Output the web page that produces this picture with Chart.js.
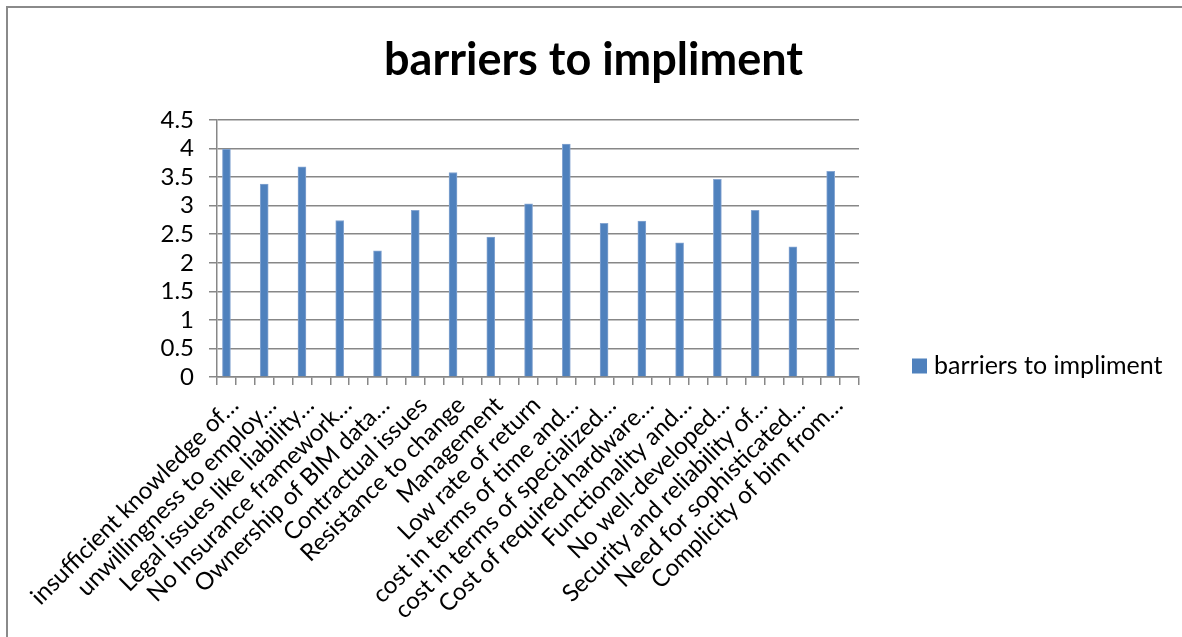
<!DOCTYPE html>
<html>
<head>
<meta charset="utf-8">
<script src="https://cdn.jsdelivr.net/npm/chart.js@4/dist/chart.umd.min.js"></script>
<style>
  html, body { margin: 0; padding: 0; background: #ffffff; }
  canvas { display: block; }
</style>
</head>
<body>
<canvas id="chart" width="1182" height="637"></canvas>
<script>
// Barrier categories (labels are shortened with an ellipsis)
const categories = [
  'insufficient knowledge of\u2026',
  'unwillingness to employ\u2026',
  'Legal issues like liability\u2026',
  'No Insurance framework\u2026',
  'Ownership of BIM data\u2026',
  'Contractual issues',
  'Resistance to change',
  'Management',
  'Low rate of return',
  'cost in terms of time and\u2026',
  'cost in terms of specialized\u2026',
  'Cost of required hardware\u2026',
  'Functionality and\u2026',
  'No well-developed\u2026',
  'Security and reliability of\u2026',
  'Need for sophisticated\u2026',
  'Complicity of bim from\u2026'
];

// Mean score for each barrier
const scores = [3.99, 3.38, 3.68, 2.74, 2.21, 2.92, 3.58, 2.45, 3.03, 4.08, 2.69, 2.73, 2.35, 3.46, 2.92, 2.28, 3.60];

const seriesName = 'barriers to impliment';
const yTickValues = [0, 0.5, 1, 1.5, 2, 2.5, 3, 3.5, 4, 4.5];

// The sheet has an empty row after every barrier, so each barrier
// is followed by a blank category slot on the axis.
const slotLabels = [];
const slotValues = [];
categories.forEach((name, i) => {
  slotLabels.push(name);
  slotValues.push(scores[i]);
  slotLabels.push('');
  slotValues.push(null);
});

const FONT = 'Lato, "Open Sans", sans-serif';
const BAR_COLOR = '#4F81BD';
const AXIS_GRAY = '#878787';

// White page with the frame line along the top and left
const framePlugin = {
  id: 'frame',
  beforeDraw(chart) {
    const ctx = chart.ctx;
    ctx.save();
    ctx.fillStyle = '#ffffff';
    ctx.fillRect(0, 0, chart.width, chart.height);
    ctx.strokeStyle = '#8a8a8a';
    ctx.lineWidth = 2;
    ctx.beginPath();
    ctx.moveTo(7, chart.height);
    ctx.lineTo(7, 7);
    ctx.lineTo(chart.width, 7);
    ctx.stroke();
    ctx.restore();
  }
};

// Single-entry legend placed right of the plot
const sideLegendPlugin = {
  id: 'sideLegend',
  afterDraw(chart) {
    const ds = chart.data.datasets[0];
    const area = chart.chartArea;
    const ctx = chart.ctx;
    const x = area.right + 53;
    const y = 366;
    ctx.save();
    ctx.fillStyle = ds.backgroundColor;
    ctx.fillRect(x, y - 7.5, 15, 15);
    ctx.fillStyle = '#000000';
    ctx.font = '25px ' + FONT;
    ctx.textBaseline = 'middle';
    ctx.textAlign = 'left';
    ctx.fillText(ds.label, x + 22, y);
    ctx.restore();
  }
};

new Chart(document.getElementById('chart'), {
  type: 'bar',
  data: {
    labels: slotLabels,
    datasets: [{
      label: seriesName,
      data: slotValues,
      backgroundColor: BAR_COLOR,
      borderColor: '#86A6D2',
      borderWidth: 1,
      barThickness: 8
    }]
  },
  options: {
    responsive: false,
    animation: false,
    devicePixelRatio: 1,
    layout: { padding: { left: 10, top: 8, right: 5, bottom: 5 } },
    plugins: {
      legend: { display: false },
      tooltip: { enabled: false },
      title: {
        display: true,
        text: seriesName,
        color: '#000000',
        font: { family: FONT, size: 45, weight: 'bold' },
        padding: { top: 25, bottom: 33 }
      }
    },
    scales: {
      x: {
        offset: true,
        grid: {
          display: true,
          offset: true,
          drawOnChartArea: false,
          drawTicks: true,
          tickLength: 8,
          color: AXIS_GRAY,
          lineWidth: 1.5
        },
        border: { color: AXIS_GRAY, width: 1.5 },
        ticks: {
          autoSkip: false,
          minRotation: 45,
          maxRotation: 45,
          padding: 6,
          labelOffset: 8,
          color: '#000000',
          font: { family: FONT, size: 24 }
        },
        afterFit(scale) { scale.height = 637 - 377 - 5; }
      },
      y: {
        min: yTickValues[0],
        max: yTickValues[yTickValues.length - 1],
        afterBuildTicks(scale) { scale.ticks = yTickValues.map(v => ({ value: v })); },
        grid: { color: AXIS_GRAY, lineWidth: 1.5, tickLength: 8 },
        border: { color: AXIS_GRAY, width: 1.5 },
        ticks: {
          autoSkip: false,
          padding: 15,
          color: '#000000',
          font: { family: FONT, size: 24 },
          callback: v => String(v)
        },
        afterFit(scale) { scale.width = 217 - 10; }
      },
      // empty band on the right that holds the legend
      legendBand: {
        type: 'linear',
        position: 'right',
        display: true,
        grid: { display: false, drawTicks: false },
        border: { display: false },
        ticks: { display: false },
        afterFit(scale) { scale.width = 1182 - 5 - 859; }
      }
    }
  },
  plugins: [framePlugin, sideLegendPlugin]
});
</script>
</body>
</html>
